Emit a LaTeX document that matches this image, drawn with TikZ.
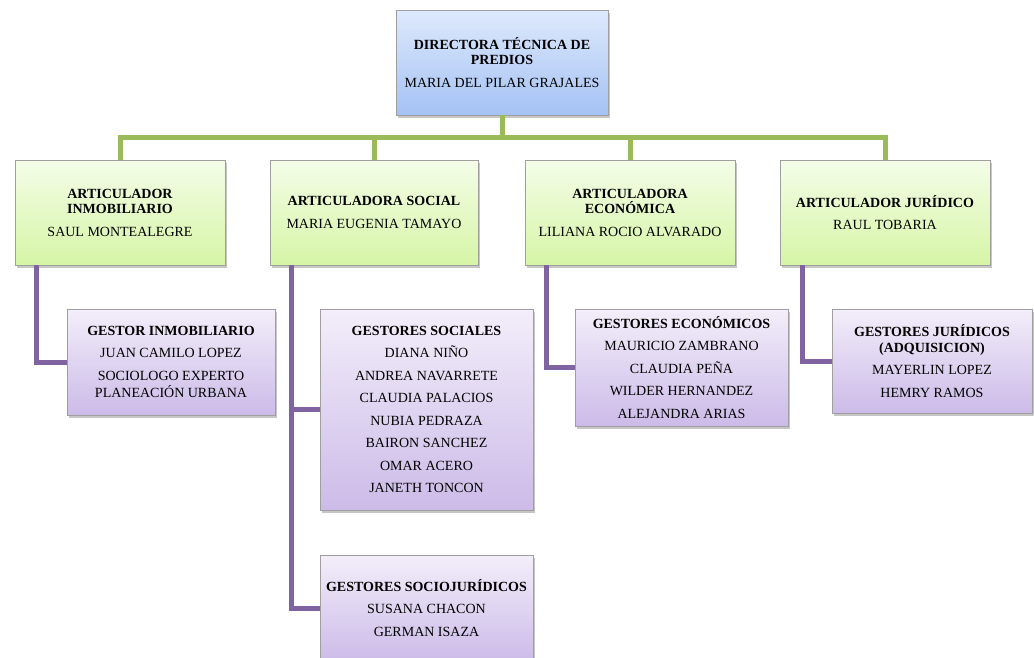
\documentclass[tikz,border=0pt]{standalone}
\usepackage{fontspec}
\setmainfont{Liberation Serif}
\usetikzlibrary{shadows}

\definecolor{blueTop}{RGB}{222,233,252}
\definecolor{blueBot}{RGB}{164,194,244}
\definecolor{greenTop}{RGB}{244,253,232}
\definecolor{greenBot}{RGB}{214,245,166}
\definecolor{purpleTop}{RGB}{243,238,250}
\definecolor{purpleBot}{RGB}{204,187,232}
\definecolor{greenLink}{RGB}{155,187,89}
\definecolor{purpleLink}{RGB}{128,100,162}

\tikzset{
  box/.style={draw=gray!75, line width=0.8pt, align=center, inner sep=2pt,
    font=\fontsize{14}{15.5}\selectfont,
    drop shadow={shadow xshift=2pt, shadow yshift=-2.5pt, opacity=0.45, fill=gray}},
  bluebox/.style={box, top color=blueTop, bottom color=blueBot},
  greenbox/.style={box, top color=greenTop, bottom color=greenBot},
  purplebox/.style={box, top color=purpleTop, bottom color=purpleBot},
  greenline/.style={line width=5pt, color=greenLink},
  purpleline/.style={line width=5pt, color=purpleLink}
}

\begin{document}
\begin{tikzpicture}[x=1pt,y=-1pt]
\useasboundingbox (0,0) rectangle (1034,657);

% director
\node[bluebox, minimum width=212pt, minimum height=105pt] (dir) at (502,62.5)
  {\textbf{DIRECTORA TÉCNICA DE}\\\textbf{PREDIOS}\\[7pt]MARIA DEL PILAR GRAJALES};

% articuladores
\node[greenbox, minimum width=210pt, minimum height=105pt] (artInm) at (120,212.5)
  {\textbf{ARTICULADOR}\\\textbf{INMOBILIARIO}\\[7pt]SAUL MONTEALEGRE};
\node[greenbox, minimum width=208pt, minimum height=105pt] (artSoc) at (374,212.5)
  {\textbf{ARTICULADORA SOCIAL}\\[7pt]MARIA EUGENIA TAMAYO};
\node[greenbox, minimum width=210pt, minimum height=105pt] (artEco) at (630,212.5)
  {\textbf{ARTICULADORA}\\\textbf{ECONÓMICA}\\[7pt]LILIANA ROCIO ALVARADO};
\node[greenbox, minimum width=210pt, minimum height=105pt] (artJur) at (885,212.5)
  {\textbf{ARTICULADOR JURÍDICO}\\[7pt]RAUL TOBARIA};

% gestores
\node[purplebox, minimum width=208pt, minimum height=106pt] (gesInm) at (171,362)
  {\textbf{GESTOR INMOBILIARIO}\\[7pt]JUAN CAMILO LOPEZ\\[7pt]SOCIOLOGO EXPERTO\\[2pt]PLANEACIÓN URBANA};
\node[purplebox, minimum width=213pt, minimum height=201pt] (gesSoc) at (426.5,409.5)
  {\textbf{GESTORES SOCIALES}\\[7pt]DIANA NIÑO\\[7pt]ANDREA NAVARRETE\\[7pt]CLAUDIA PALACIOS\\[7pt]NUBIA PEDRAZA\\[7pt]BAIRON SANCHEZ\\[7pt]OMAR ACERO\\[7pt]JANETH TONCON};
\node[purplebox, minimum width=213pt, minimum height=106pt] (gesSocJur) at (426.5,608)
  {\textbf{GESTORES SOCIOJURÍDICOS}\\[7pt]SUSANA CHACON\\[7pt]GERMAN ISAZA};
\node[purplebox, minimum width=213pt, minimum height=117pt] (gesEco) at (681.5,367.5)
  {\textbf{GESTORES ECONÓMICOS}\\[7pt]MAURICIO ZAMBRANO\\[7pt]CLAUDIA PEÑA\\[7pt]WILDER HERNANDEZ\\[7pt]ALEJANDRA ARIAS};
\node[purplebox, minimum width=200pt, minimum height=104pt] (gesJur) at (932,361)
  {\textbf{GESTORES JURÍDICOS}\\\textbf{(ADQUISICION)}\\[7pt]MAYERLIN LOPEZ\\[7pt]HEMRY RAMOS};

% green bus
\coordinate (bus) at (502,137);
\draw[greenline] (artInm.north) |- (artJur.north |- bus) -- (artJur.north);
\draw[greenline] (dir.south) -- (dir.south |- bus);
\draw[greenline] (artSoc.north) -- (artSoc.north |- bus);
\draw[greenline] (artEco.north) -- (artEco.north |- bus);

% purple links
\draw[purpleline] ([xshift=-84pt]artInm.south) |- (gesInm.west);
\draw[purpleline] ([xshift=-83pt]artSoc.south) |- (gesSocJur.west);
\draw[purpleline] (gesSoc.west) -| ([xshift=-83pt]artSoc.south);
\draw[purpleline] ([xshift=-84pt]artEco.south) |- (gesEco.west);
\draw[purpleline] ([xshift=-83pt]artJur.south) |- (gesJur.west);

\end{tikzpicture}
\end{document}
